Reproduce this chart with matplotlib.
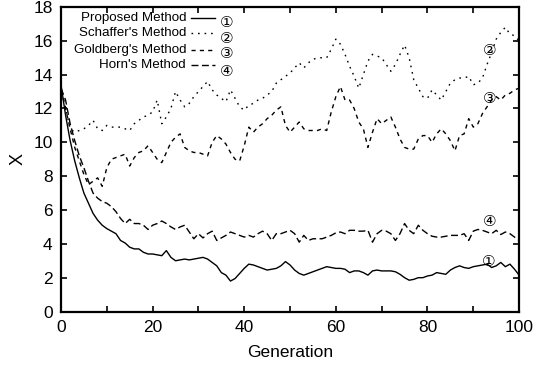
import matplotlib
matplotlib.use("Agg")
import matplotlib.pyplot as plt
from matplotlib.ticker import MultipleLocator

generations = list(range(0, 101))

proposed = [13.4, 11.6, 10.1, 8.9, 7.9, 7.0, 6.4, 5.8, 5.4, 5.1,
            4.9, 4.75, 4.6, 4.2, 4.05, 3.8, 3.7, 3.7, 3.5, 3.4,
            3.4, 3.35, 3.3, 3.6, 3.2, 3.0, 3.05, 3.1, 3.05, 3.1,
            3.15, 3.2, 3.1, 2.9, 2.7, 2.3, 2.15, 1.8, 1.95, 2.25,
            2.55, 2.8, 2.75, 2.65, 2.55, 2.45, 2.5, 2.55, 2.7, 2.95,
            2.75, 2.45, 2.25, 2.15, 2.25, 2.35, 2.45, 2.55, 2.65, 2.6,
            2.55, 2.55, 2.5, 2.3, 2.4, 2.4, 2.3, 2.15, 2.4, 2.45,
            2.4, 2.4, 2.4, 2.35, 2.2, 2.0, 1.85, 1.9, 2.0, 2.0,
            2.1, 2.15, 2.3, 2.25, 2.2, 2.45, 2.6, 2.7, 2.6, 2.55,
            2.65, 2.7, 2.75, 2.8, 2.6, 2.7, 2.9, 2.65, 2.8, 2.5,
            2.15]

schaffer = [13.3, 12.0, 10.8, 10.6, 10.7, 10.8, 11.0, 11.3, 10.8, 10.7,
            11.0, 10.9, 10.9, 10.9, 10.8, 10.7, 11.1, 11.3, 11.5, 11.6,
            11.8, 12.5, 11.1, 11.5, 12.0, 13.0, 12.5, 12.1, 12.3, 12.7,
            13.0, 13.3, 13.6, 13.1, 12.8, 12.6, 12.4, 13.1, 12.6, 12.1,
            11.9, 12.2, 12.3, 12.5, 12.6, 12.8, 13.0, 13.5, 13.7, 13.9,
            14.1, 14.4, 14.7, 14.4, 14.7, 14.9, 15.0, 15.0, 15.0, 15.5,
            16.1, 15.8, 15.2, 14.5, 13.9, 13.2, 14.0, 14.8, 15.2, 15.1,
            15.0, 14.6, 14.2, 14.6, 15.2, 15.75, 15.0, 13.7, 13.2, 12.7,
            12.6, 13.1, 12.8, 12.5, 13.0, 13.5, 13.7, 13.8, 13.8, 13.9,
            13.4, 13.5, 13.8, 14.6, 15.3, 16.1, 16.5, 16.8, 16.4, 16.3,
            16.0]

goldberg = [13.1, 12.0, 10.8, 9.7, 8.9, 8.1, 7.5, 7.7, 7.9, 7.4,
            8.5, 9.0, 9.1, 9.2, 9.3, 8.6, 9.1, 9.4, 9.5, 9.8,
            9.4, 9.0, 8.8, 9.4, 10.0, 10.3, 10.5, 9.7, 9.5, 9.4,
            9.4, 9.3, 9.2, 10.0, 10.4, 10.2, 9.9, 9.4, 9.0, 8.9,
            9.8, 10.9, 10.6, 10.9, 11.1, 11.4, 11.6, 11.9, 12.1, 11.0,
            10.6, 10.9, 11.2, 10.8, 10.7, 10.7, 10.7, 10.8, 10.7, 11.8,
            12.7, 13.3, 12.5, 12.5, 12.0, 11.2, 10.8, 9.7, 10.6, 11.4,
            11.1, 11.3, 11.5, 10.9, 10.2, 9.7, 9.6, 9.6, 10.2, 10.4,
            10.4, 10.0, 10.5, 10.8, 10.5, 10.1, 9.5, 10.4, 10.5, 11.4,
            10.9, 11.1, 11.7, 12.1, 12.5, 12.7, 12.5, 12.8, 12.9, 13.1,
            13.2]

horn = [13.2, 12.5, 11.1, 10.1, 9.2, 8.5, 7.7, 7.0, 6.7, 6.5,
        6.4, 6.2, 5.9, 5.5, 5.2, 5.45, 5.2, 5.2, 5.1, 4.85,
        5.1, 5.2, 5.35, 5.2, 5.0, 4.85, 5.0, 5.1, 4.7, 4.3,
        4.6, 4.35, 4.6, 4.75, 4.2, 4.35, 4.5, 4.7, 4.6, 4.5,
        4.4, 4.5, 4.4, 4.6, 4.75, 4.6, 4.2, 4.6, 4.6, 4.7,
        4.8, 4.6, 4.1, 4.5, 4.2, 4.3, 4.3, 4.3, 4.4, 4.5,
        4.65, 4.7, 4.6, 4.8, 4.8, 4.75, 4.75, 4.8, 4.1, 4.6,
        4.8, 4.75, 4.6, 4.2, 4.6, 5.2, 4.8, 4.6, 5.1, 4.8,
        4.6, 4.45, 4.4, 4.4, 4.45, 4.5, 4.5, 4.5, 4.6, 4.2,
        4.75, 4.85, 4.8, 4.7, 4.6, 4.8, 4.55, 4.7, 4.6, 4.4,
        4.2]

labels = ["Proposed Method", "Schaffer's Method", "Goldberg's Method", "Horn's Method"]
marks = ["\u2460", "\u2461", "\u2462", "\u2463"]
series = [proposed, schaffer, goldberg, horn]
styles = ["-", (0, (1.2, 3.5)), (0, (3, 3)), (0, (5, 2.5))]
mark_pos = [(93.3, 2.95), (93.6, 15.4), (93.5, 12.6), (93.6, 5.3)]

plt.rcParams['font.family'] = ['Liberation Sans', 'DejaVu Sans', 'Noto Sans CJK JP']

fig = plt.figure(figsize=(5.47, 3.68), dpi=100)
ax = fig.add_axes([0.1115, 0.1535, 0.8375, 0.8275])

for ys, ls in zip(series, styles):
    ax.plot(generations, ys, color='black', linestyle=ls, linewidth=1.0)

ax.set_xlim(0, 100)
ax.set_ylim(0, 18)
ax.xaxis.set_major_locator(MultipleLocator(20))
ax.xaxis.set_minor_locator(MultipleLocator(10))
ax.yaxis.set_major_locator(MultipleLocator(2))
ax.tick_params(which='both', direction='in', top=True, right=True, length=4, width=1.2,
               labelsize=12.5, pad=6)
for sp in ax.spines.values():
    sp.set_linewidth(1.6)

ax.set_xlabel("Generation", fontsize=12.5, labelpad=7)
ax.set_ylabel("X", fontsize=13, labelpad=5)

# legend (drawn manually: right-aligned labels, line sample, circled number)
row_y = [0.963, 0.913, 0.860, 0.810]
mark_y = [0.950, 0.898, 0.848, 0.788]
for lab, ls, mk, ry, my in zip(labels, styles, marks, row_y, mark_y):
    ax.text(0.273, ry, lab, transform=ax.transAxes, ha='right', va='center', fontsize=9.6)
    ax.plot([0.283, 0.336], [ry, ry], transform=ax.transAxes, color='black',
            linestyle=ls, linewidth=1.0, clip_on=False)
    ax.text(0.362, my, mk, transform=ax.transAxes, ha='center', va='center', fontsize=11,
            family=['DejaVu Sans', 'Noto Sans CJK JP'])

for mk, (gx, gy) in zip(marks, mark_pos):
    ax.text(gx, gy, mk, ha='center', va='center', fontsize=11,
            family=['DejaVu Sans', 'Noto Sans CJK JP'])

fig.savefig("out.png", dpi=100)
